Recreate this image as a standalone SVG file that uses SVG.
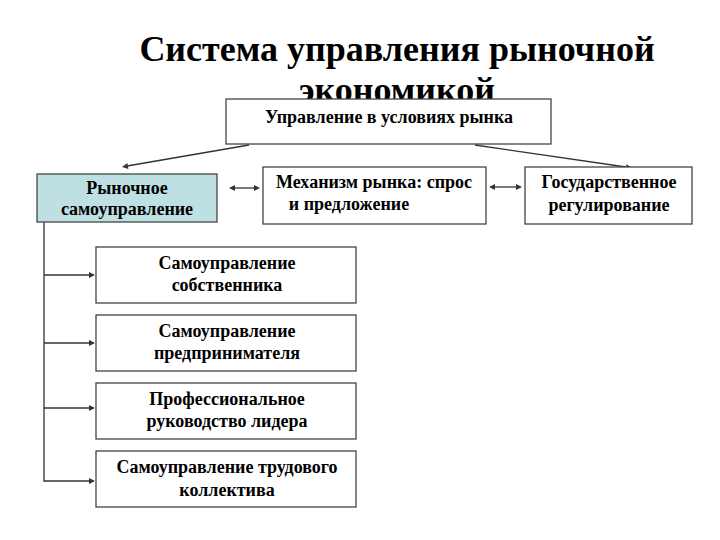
<svg xmlns="http://www.w3.org/2000/svg" width="720" height="540" viewBox="0 0 720 540">
<style>
text{font-weight:bold;fill:#000;text-anchor:middle}
.box{fill:#fff;stroke:#444;stroke-width:1.3}
.c{stroke:#333;stroke-width:1.3;fill:none}
.h{fill:#333;stroke:none}
</style>
<g id="title">
<text x="397" y="61" font-family="Liberation Serif" font-size="36">Система управления рыночной</text>
<text x="397" y="102" font-family="Liberation Serif" font-size="36">экономикой</text>
</g>
<g id="top">
<rect class="box" x="226" y="99" width="325" height="45"/>
<text x="389" y="123" font-family="Liberation Serif" font-size="18">Управление в условиях рынка</text>
</g>
<g id="connectors">
<line class="c" x1="249" y1="145" x2="127" y2="166"/>
<polygon class="h" points="122,167 128.4,169 127.4,163"/>
<line class="c" x1="475" y1="145" x2="626" y2="167"/>
<polygon class="h" points="632,168 625.7,170.1 626.5,164.2"/>
<line class="c" x1="234" y1="188" x2="255" y2="188"/>
<polygon class="h" points="229,188 235,185 235,191"/>
<polygon class="h" points="260,188 254,185 254,191"/>
<line class="c" x1="494" y1="187" x2="517" y2="187"/>
<polygon class="h" points="489,187 495,184 495,190"/>
<polygon class="h" points="522,187 516,184 516,190"/>
<polyline class="c" points="44,222 44,481 90,481"/>
<polygon class="h" points="95,481 89,478 89,484"/>
<line class="c" x1="44" y1="275" x2="90" y2="275"/>
<polygon class="h" points="95,275 89,272 89,278"/>
<line class="c" x1="44" y1="343" x2="90" y2="343"/>
<polygon class="h" points="95,343 89,340 89,346"/>
<line class="c" x1="44" y1="408" x2="90" y2="408"/>
<polygon class="h" points="95,408 89,405 89,411"/>
</g>
<g id="market">
<rect class="box" x="37" y="174" width="180" height="48" style="fill:#bfe0e2"/>
<text x="127" y="194" font-family="Liberation Serif" font-size="18">Рыночное</text>
<text x="127" y="215" font-family="Liberation Serif" font-size="18">самоуправление</text>
</g>
<g id="mechanism">
<rect class="box" x="263" y="167" width="223" height="57"/>
<text x="374" y="188" font-family="Liberation Serif" font-size="18">Механизм рынка: спрос</text>
<text x="349" y="210" font-family="Liberation Serif" font-size="18">и предложение</text>
</g>
<g id="state">
<rect class="box" x="525" y="167" width="167" height="57"/>
<text x="609" y="188" font-family="Liberation Serif" font-size="18">Государственное</text>
<text x="609" y="211" font-family="Liberation Serif" font-size="18">регулирование</text>
</g>
<g id="owner">
<rect class="box" x="96" y="247" width="260" height="56"/>
<text x="227" y="269" font-family="Liberation Serif" font-size="18">Самоуправление</text>
<text x="227" y="291" font-family="Liberation Serif" font-size="18">собственника</text>
</g>
<g id="entrepreneur">
<rect class="box" x="96" y="315" width="260" height="56"/>
<text x="227" y="337" font-family="Liberation Serif" font-size="18">Самоуправление</text>
<text x="227" y="359" font-family="Liberation Serif" font-size="18">предпринимателя</text>
</g>
<g id="leader">
<rect class="box" x="96" y="383" width="260" height="56"/>
<text x="227" y="405" font-family="Liberation Serif" font-size="18">Профессиональное</text>
<text x="227" y="427" font-family="Liberation Serif" font-size="18">руководство лидера</text>
</g>
<g id="collective">
<rect class="box" x="96" y="451" width="260" height="56"/>
<text x="227" y="473" font-family="Liberation Serif" font-size="18">Самоуправление трудового</text>
<text x="227" y="496" font-family="Liberation Serif" font-size="18">коллектива</text>
</g>
</svg>
